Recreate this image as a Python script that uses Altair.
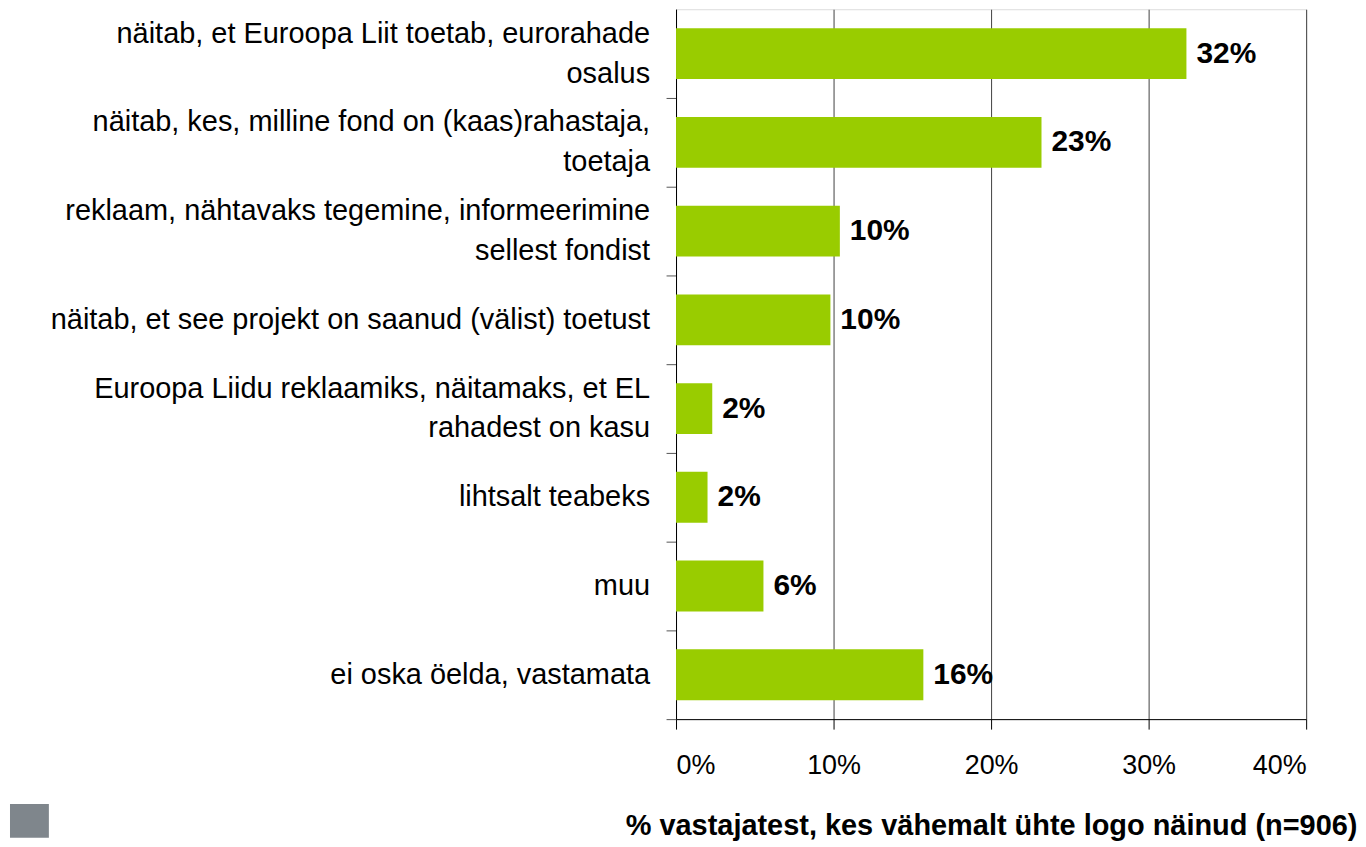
import altair as alt
import pandas as pd

categories = [
    "näitab, et Euroopa Liit toetab, eurorahade|osalus",
    "näitab, kes, milline fond on (kaas)rahastaja,|toetaja",
    "reklaam, nähtavaks tegemine, informeerimine|sellest fondist",
    "näitab, et see projekt on saanud (välist) toetust",
    "Euroopa Liidu reklaamiks, näitamaks, et EL|rahadest on kasu",
    "lihtsalt teabeks",
    "muu",
    "ei oska öelda, vastamata",
]
values = [0.324, 0.232, 0.104, 0.098, 0.023, 0.020, 0.0555, 0.157]
x_ticks = [0, 0.1, 0.2, 0.3, 0.4]
x_title = "% vastajatest, kes vähemalt ühte logo näinud (n=906)"

two_line = [c for c in categories if "|" in c]
one_line = [c for c in categories if "|" not in c]

df = pd.DataFrame({"cat": categories, "val": values})

FONT = "Liberation Sans"
GREEN = "#99CC00"
LABEL_SIZE = 29

y_scale = alt.Scale(domain=categories, paddingInner=0.427, paddingOuter=0.2135)

y_enc = alt.Y(
    "cat:N",
    scale=y_scale,
    axis=alt.Axis(
        title="",
        labels=False,
        tickSize=10,
        tickOffset=44.5,
        tickColor="#555555",
        domainColor="#000000",
        minExtent=668,
        maxExtent=668,
        grid=False,
    ),
)

x_enc = alt.X(
    "val:Q",
    scale=alt.Scale(domain=[0, 0.4], nice=False),
    axis=alt.Axis(
        values=x_ticks,
        format=".0%",
        title=x_title,
        titleFont=FONT,
        titleFontSize=29,
        titleFontWeight="bold",
        titleColor="#000000",
        titlePadding=33,
        labelFont=FONT,
        labelFontSize=27,
        labelColor="#000000",
        labelPadding=24,
        tickSize=10,
        tickColor="#000000",
        domainColor="#000000",
        grid=True,
        gridColor="#404040",
        gridWidth=1,
    ),
)

base = alt.Chart(df)

bars = base.mark_bar(color=GREEN).encode(x=x_enc, y=y_enc)

values_text = base.mark_text(
    align="left", baseline="middle", dx=10, font=FONT, fontSize=30,
    fontWeight="bold", color="#000000"
).encode(
    x=alt.X("val:Q"),
    y=alt.Y("cat:N", scale=y_scale),
    text=alt.Text("val:Q", format=".0%"),
)

labels_one = base.transform_filter(
    alt.FieldOneOfPredicate(field="cat", oneOf=one_line)
).mark_text(
    align="right", baseline="middle", font=FONT, fontSize=LABEL_SIZE, color="#000000"
).encode(
    x=alt.value(-26),
    y=alt.Y("cat:N", scale=y_scale),
    text="cat:N",
)

labels_two = base.transform_filter(
    alt.FieldOneOfPredicate(field="cat", oneOf=two_line)
).mark_text(
    align="right", baseline="middle", font=FONT, fontSize=LABEL_SIZE, color="#000000",
    lineBreak="|", lineHeight=40, dy=-20
).encode(
    x=alt.value(-26),
    y=alt.Y("cat:N", scale=y_scale),
    text="cat:N",
)

deco = alt.Chart(pd.DataFrame({"a": [0]})).mark_rect(color="#7F868C").encode(
    x=alt.value(-668), x2=alt.value(-629), y=alt.value(797), y2=alt.value(831)
)

chart = (
    alt.layer(bars, values_text, labels_one, labels_two, deco)
    .properties(width=632, height=712, padding={"left": 2, "top": 0, "right": 0, "bottom": 0})
    .configure_view(stroke="#808080", strokeWidth=2)
    .configure(background="#ffffff")
)

chart.save("out.html", embed_options={"renderer": "svg", "actions": False})
